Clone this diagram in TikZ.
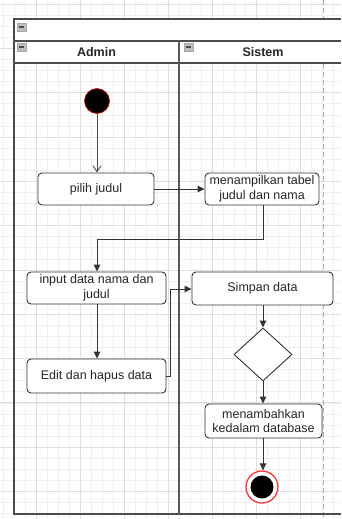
\documentclass[tikz,border=0pt]{standalone}
\usepackage{fontspec}
\setmainfont{Liberation Sans}
\usetikzlibrary{shapes.geometric,arrows.meta}

\begin{document}
\begin{tikzpicture}[x=1pt,y=-1pt,
  minorgrid/.style={draw=black!6, line width=0.6pt},
  majorgrid/.style={draw=black!13, line width=0.8pt},
  frame/.style={draw=black!70, line width=1.3pt},
  lanediv/.style={draw=black!65, line width=2pt},
  actbox/.style={draw=black!80, line width=0.9pt, rounded corners=4pt, fill=white,
    align=center, text=black!85, font=\fontsize{12.5}{14.5}\selectfont, inner sep=1pt},
  decision/.style={draw=black!80, line width=0.9pt, fill=white, diamond, inner sep=0pt,
    minimum width=58pt, minimum height=53pt},
  flow/.style={draw=black!80, line width=0.9pt, -{Triangle[length=7pt,width=6.5pt]}},
  openflow/.style={draw=black!70, line width=0.9pt, -{Straight Barb[length=6pt,width=8pt]}},
  lanetitle/.style={font=\bfseries\fontsize{12.5}{14}\selectfont, text=black!85},
  collapse/.style={draw=black!35, fill=black!25, line width=0.5pt},
]
\useasboundingbox (0,0) rectangle (341,519);
\fill[white] (0,0) rectangle (341,519);

% background grid
\foreach \i in {0,...,31} \draw[minorgrid] ({3.7+11*\i},0) -- ({3.7+11*\i},519);
\foreach \i in {0,...,47} \draw[minorgrid] (0,{4.1+11.075*\i}) -- (341,{4.1+11.075*\i});
\foreach \i in {0,...,6} \draw[majorgrid] ({36.7+44*\i},0) -- ({36.7+44*\i},519);
\foreach \i in {0,...,11} \draw[majorgrid] (0,{4.1+44.3*\i}) -- (341,{4.1+44.3*\i});

% page break marker
\draw[draw=black!30, line width=0.9pt, dash pattern=on 5pt off 3pt] (323.3,0) -- (323.3,519);

% pool title bar and lane headers
\fill[white] (14,19) rectangle (341,63);
\draw[frame] (341,19) -- (14,19) -- (14,514) -- (341,514);
\draw[frame] (14,41) -- (341,41);
\draw[frame] (14,63) -- (341,63);
\draw[lanediv] (179,41) -- (179,514);

% collapse icons
\foreach \cx/\cy in {21.5/27, 21.5/47, 188.5/47} {
  \draw[collapse] (\cx-4.5,\cy-4) rectangle (\cx+4.5,\cy+4);
  \draw[black!70, line width=1.2pt] (\cx-2.8,\cy) -- (\cx+2.8,\cy);
}
\node[lanetitle] (laneA) at (96.5,52) {Admin};
\node[lanetitle] (laneS) at (263,52) {Sistem};

% activities
\node[circle, fill=black, draw=red!85!black, line width=0.6pt, minimum size=25pt, inner sep=0pt] (start) at (97,101) {};
\node[actbox, minimum width=116pt, minimum height=32pt] (pilih) at (96,189) {pilih judul};
\node[actbox, minimum width=114pt, minimum height=32pt] (tampil) at (262,189) {menampilkan tabel\\judul dan nama};
\node[actbox, minimum width=139pt, minimum height=32pt] (input) at (96.5,288) {input data nama dan\\judul};
\node[actbox, minimum width=141pt, minimum height=33pt] (simpan) at (262.5,288.5) {Simpan data};
\node[actbox, minimum width=139pt, minimum height=34pt] (edit) at (96.5,376) {Edit dan hapus data};
\node[decision] (cek) at (263,354.5) {};
\node[actbox, minimum width=117pt, minimum height=34pt] (tambah) at (263.5,421) {menambahkan\\kedalam database};
\node[circle, draw=red!80, line width=1.3pt, fill=white, minimum size=32pt, inner sep=0pt] (end) at (262,487) {};
\node[circle, fill=black, minimum size=23pt, inner sep=0pt] (endcore) at (end.center) {};

% control flow
\coordinate (c1) at (263,239);
\coordinate (c2) at (97,239);
\coordinate (e1) at (170,376);
\coordinate (e2) at (170,289);
\draw[openflow] (start) -- (pilih.north -| start);
\draw[flow] (pilih) -- (tampil);
\draw[flow] (tampil.south -| c1) -- (c1) -- (c2) -- (input.north -| c2);
\draw[flow] (input.south -| c2) -- (edit.north -| c2);
\draw[flow] (edit.east |- e1) -- (e1) -- (e2) -- (simpan.west |- e2);
\draw[flow] (simpan.south -| cek) -- (cek.north);
\draw[flow] (cek.south) -- (tambah.north -| cek);
\draw[flow] (tambah.south -| cek) -- (end.north -| cek);
\end{tikzpicture}
\end{document}
